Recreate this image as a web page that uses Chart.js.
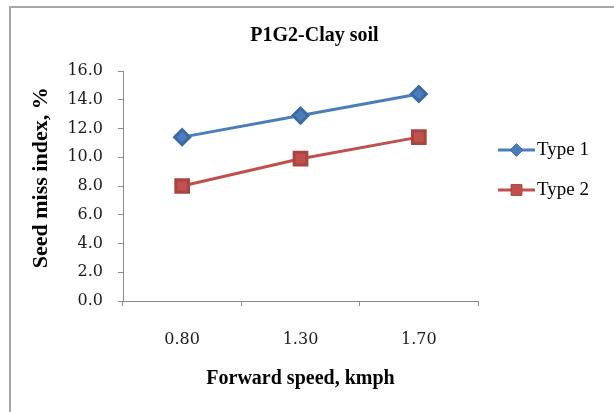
<!DOCTYPE html>
<html>
<head>
<meta charset="utf-8">
<script src="https://cdn.jsdelivr.net/npm/chart.js@4.4.1/dist/chart.umd.min.js"></script>
<style>
  html, body { margin: 0; padding: 0; background: #ffffff; }
  #wrap { position: relative; width: 614px; height: 412px; overflow: hidden; }
  #frame { position: absolute; left: 9px; top: 6px; width: 700px; height: 500px;
           border-top: 2px solid #a6a6a6; border-left: 2px solid #a6a6a6; box-sizing: border-box; }
  canvas { position: absolute; left: 0; top: 0; }
</style>
</head>
<body>
<div id="wrap">
  <div id="frame"></div>
  <canvas id="c" width="614" height="412"></canvas>
</div>
<script>
const chartTitle = "P1G2-Clay soil";
const xAxisTitle = "Forward speed, kmph";
const yAxisTitle = "Seed miss index, %";
const speeds = ["0.80", "1.30", "1.70"];
const type1 = [11.4, 12.9, 14.4];
const type2 = [8.0, 9.9, 11.4];
const seriesNames = ["Type 1", "Type 2"];

const serif = "'Liberation Serif', 'Times New Roman', serif";
const tickFont = "'DejaVu Serif', serif";

const legendPlugin = {
  id: 'sideLegend',
  afterLayout(chart) {
    const t = chart.titleBlock;
    if (t) { t.left += 14; t.right += 14; }
  },
  afterDraw(chart) {
    const ctx = chart.ctx;
    const area = chart.chartArea;
    const x0 = area.right + 20;
    const lineLen = 37;
    const ys = [area.top + 79, area.top + 119];
    chart.data.datasets.forEach((ds, i) => {
      const y = ys[i];
      ctx.save();
      ctx.strokeStyle = ds.borderColor;
      ctx.lineWidth = ds.borderWidth;
      ctx.beginPath();
      ctx.moveTo(x0, y);
      ctx.lineTo(x0 + lineLen, y);
      ctx.stroke();
      ctx.fillStyle = ds.pointBackgroundColor;
      ctx.strokeStyle = ds.pointBorderColor;
      ctx.lineWidth = 1;
      Chart.helpers.drawPoint(ctx, {
        pointStyle: ds.pointStyle,
        radius: ds.pointRadius * 0.85,
        borderWidth: 1,
        rotation: 0
      }, x0 + lineLen / 2, y);
      ctx.fillStyle = '#000000';
      ctx.font = '19px ' + serif;
      ctx.textBaseline = 'middle';
      ctx.textAlign = 'left';
      ctx.fillText(ds.label, x0 + lineLen + 2, y);
      ctx.restore();
    });
  }
};

new Chart(document.getElementById('c'), {
  type: 'line',
  data: {
    labels: speeds,
    datasets: [
      {
        label: seriesNames[0],
        data: type1,
        borderColor: '#4A7EBB',
        backgroundColor: '#4A7EBB',
        pointBackgroundColor: '#4A7EBB',
        pointBorderColor: '#3C6AA6',
        borderWidth: 3,
        pointStyle: 'rectRot',
        pointRadius: 7.5,
        pointHoverRadius: 7.5,
        tension: 0
      },
      {
        label: seriesNames[1],
        data: type2,
        borderColor: '#C0504D',
        backgroundColor: '#C0504D',
        pointBackgroundColor: '#C0504D',
        pointBorderColor: '#A94441',
        borderWidth: 3,
        pointStyle: 'rect',
        pointRadius: 9,
        pointHoverRadius: 9,
        tension: 0
      }
    ]
  },
  options: {
    responsive: false,
    animation: false,
    events: [],
    layout: { padding: { left: 20, right: 136, top: 0, bottom: 0 } },
    plugins: {
      legend: { display: false },
      tooltip: { enabled: false },
      title: {
        display: true,
        fullSize: false,
        text: chartTitle,
        color: '#000000',
        font: { family: serif, size: 20, weight: 'bold' },
        padding: { top: 24, bottom: 23 }
      }
    },
    scales: {
      x: {
        offset: true,
        grid: { display: true, offset: true, drawOnChartArea: false, drawTicks: true, tickLength: 5, color: '#8c8c8c' },
        border: { display: true, color: '#8c8c8c', width: 1 },
        ticks: { color: '#1a1a1a', font: { family: tickFont, size: 16 }, padding: 24, maxRotation: 0 },
        title: { display: true, text: xAxisTitle, color: '#000000',
                 font: { family: serif, size: 20, weight: 'bold' }, padding: { top: 0, bottom: 21 } },
        afterFit(scale) { scale.height = 111; }
      },
      y: {
        min: 0,
        max: 16,
        grid: { display: true, drawOnChartArea: false, drawTicks: true, tickLength: 5, color: '#8c8c8c' },
        border: { display: true, color: '#8c8c8c', width: 1 },
        ticks: { stepSize: 2, color: '#1a1a1a', font: { family: tickFont, size: 16 }, padding: 15,
                 callback: (v) => Number(v).toFixed(1) },
        title: { display: true, text: '   ' + yAxisTitle, color: '#000000',
                 font: { family: serif, size: 22, weight: 'bold' }, padding: { top: 8, bottom: 0 } },
        afterFit(scale) { scale.width = 103; }
      }
    }
  },
  plugins: [legendPlugin]
});
</script>
</body>
</html>
